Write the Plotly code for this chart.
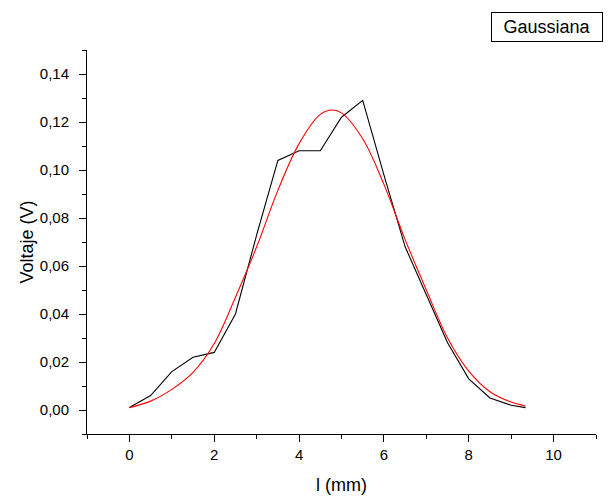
import plotly.graph_objects as go

# Measured data (black)
x_data = [0, 0.5, 1.0, 1.5, 2.0, 2.5, 3.0, 3.5, 4.0, 4.5, 5.0, 5.5, 6.0, 6.5, 7.0, 7.5, 8.0, 8.5, 9.0, 9.34]
y_data = [0.001, 0.006, 0.016, 0.022, 0.024, 0.040, 0.073, 0.104, 0.108, 0.108, 0.122, 0.129,
          0.098, 0.068, 0.048, 0.028, 0.013, 0.005, 0.002, 0.001]

# Gaussian fit curve (red)
x_fit = [0, 0.5, 1.0, 1.5, 2.0, 2.5, 3.0, 3.5, 4.0, 4.5, 4.78, 5.0, 5.5, 6.0, 6.5, 7.0, 7.5, 8.0, 8.5, 9.0, 9.34]
y_fit = [0.001, 0.0037, 0.0086, 0.0157, 0.0277, 0.047, 0.068, 0.0915, 0.111, 0.1232, 0.125, 0.1238,
         0.113, 0.094, 0.071, 0.050, 0.030, 0.0162, 0.0076, 0.0033, 0.0017]

x_ticks = [0, 2, 4, 6, 8, 10]
y_ticks = [0.00, 0.02, 0.04, 0.06, 0.08, 0.10, 0.12, 0.14]

legend_text = "Gaussiana"

FONT = "Liberation Sans, Arial, sans-serif"

fig = go.Figure()
fig.add_trace(go.Scatter(x=x_data, y=y_data, mode="lines",
                         line=dict(color="black", width=1.1), showlegend=False))
fig.add_trace(go.Scatter(x=x_fit, y=y_fit, mode="lines",
                         line=dict(color="#ff0000", width=1.1, shape="spline", smoothing=1.0),
                         showlegend=False))

axis_common = dict(
    showline=True, linecolor="black", linewidth=1,
    ticks="outside", ticklen=7, tickwidth=1, tickcolor="black",
    showgrid=False, zeroline=False,
    tickfont=dict(family=FONT, size=15, color="black"),
    mirror=False,
)

fig.update_xaxes(**axis_common, range=[-1, 11], tickvals=x_ticks,
                 minor=dict(dtick=1, tick0=-1, ticks="outside", ticklen=4, tickcolor="black", tickwidth=1),
                 title=dict(text="l (mm)", font=dict(family=FONT, size=18, color="black"),
                            standoff=16))
fig.update_yaxes(**axis_common, range=[-0.01, 0.15], tickvals=y_ticks, tickformat=".2f",
                 ticklabelstandoff=7,
                 minor=dict(dtick=0.01, tick0=-0.01, ticks="outside", ticklen=4, tickcolor="black", tickwidth=1),
                 title=dict(text="Voltaje (V)", font=dict(family=FONT, size=18, color="black"),
                            standoff=1))

fig.add_annotation(xref="paper", yref="paper", x=1.0138, y=1.099, xanchor="right", yanchor="top",
                   text=legend_text, showarrow=False,
                   font=dict(family=FONT, size=18, color="black"),
                   bordercolor="black", borderwidth=1, borderpad=1, width=108, height=26,
                   bgcolor="white")

fig.update_layout(
    width=613, height=497,
    margin=dict(l=79, r=25, t=42, b=71),
    plot_bgcolor="white", paper_bgcolor="white",
    separators=",.",
)

fig.write_html("out.html")
